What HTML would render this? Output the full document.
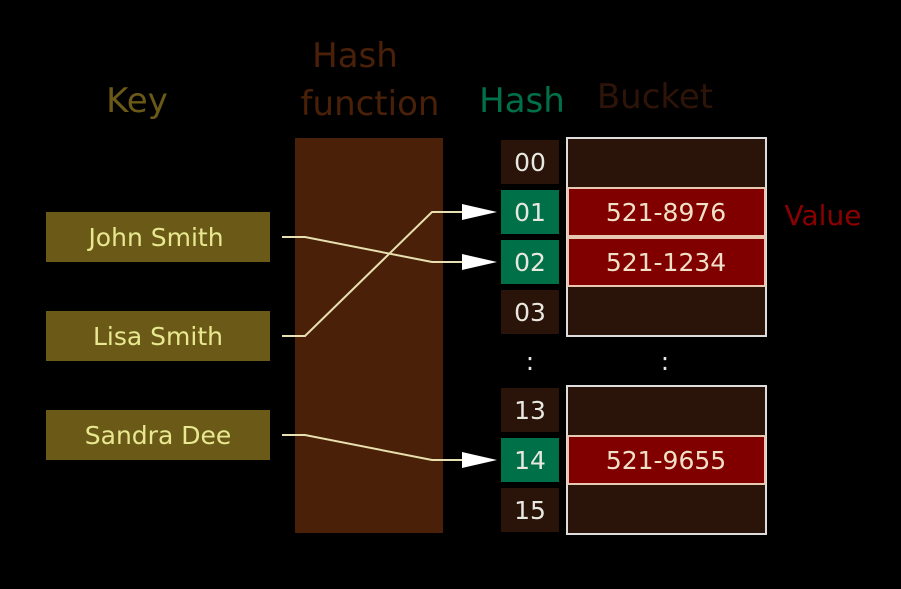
<!DOCTYPE html><html><head><style>html,body{margin:0;background:#000}svg{display:block}</style></head><body>
<svg width="901" height="589" viewBox="0 0 901 589" font-family="'DejaVu Sans','Liberation Sans',sans-serif">
<rect width="901" height="589" fill="#000"/>
<g font-size="34" text-anchor="middle">
<text x="137" y="112" fill="#6b5a17">Key</text>
<text x="355" y="67" fill="#4a2108">Hash</text>
<text x="370" y="115" fill="#4a2108">function</text>
<text x="522" y="112" fill="#007048">Hash</text>
<text x="655" y="108" fill="#2e1408">Bucket</text>
</g>
<text x="823" y="225" font-size="28" text-anchor="middle" fill="#8b0000">Value</text>
<g fill="#6b5a17">
<rect x="46" y="212" width="224" height="50"/><rect x="46" y="311" width="224" height="50"/><rect x="46" y="410" width="224" height="50"/>
</g>
<g font-size="25" fill="#e8e890" text-anchor="middle">
<text x="156" y="246">John Smith</text><text x="158" y="345">Lisa Smith</text><text x="158" y="444">Sandra Dee</text>
</g>
<rect x="295" y="138" width="148" height="395" fill="#4a2108"/>
<g fill="#2a140a"><rect x="501" y="140" width="58" height="44"/><rect x="501" y="290" width="58" height="44"/><rect x="501" y="388" width="58" height="44"/><rect x="501" y="488" width="58" height="44"/></g>
<g fill="#007048"><rect x="501" y="190" width="58" height="44"/><rect x="501" y="240" width="58" height="44"/><rect x="501" y="438" width="58" height="44"/></g>
<g font-size="25" fill="#e8e8e0" text-anchor="middle">
<text x="530" y="171">00</text><text x="530" y="221">01</text><text x="530" y="271">02</text><text x="530" y="321">03</text>
<text x="530" y="419">13</text><text x="530" y="469">14</text><text x="530" y="519">15</text>
<text x="530" y="370">:</text><text x="665" y="370">:</text>
</g>
<rect x="567" y="138" width="199" height="198" fill="#2a140a" stroke="#ddd" stroke-width="2"/>
<rect x="567" y="386" width="199" height="148" fill="#2a140a" stroke="#ddd" stroke-width="2"/>
<g fill="#800000" stroke="#e8c8b0" stroke-width="2">
<rect x="568" y="188" width="197" height="48"/><rect x="568" y="238" width="197" height="48"/><rect x="568" y="436" width="197" height="48"/>
</g>
<g font-size="25" fill="#f0e0c8" text-anchor="middle">
<text x="666" y="221">521-8976</text><text x="666" y="271">521-1234</text><text x="666" y="469">521-9655</text>
</g>
<g fill="none" stroke="#e8e0b0" stroke-width="2">
<polyline points="282,237 305,237 432,262 465,262"/>
<polyline points="282,336 305,336 432,212 465,212"/>
<polyline points="282,435 305,435 432,460 465,460"/>
</g>
<g fill="#fff">
<polygon points="462,204 497,212 462,220"/><polygon points="462,254 497,262 462,270"/><polygon points="462,452 497,460 462,468"/>
</g>
</svg>
</body></html>
